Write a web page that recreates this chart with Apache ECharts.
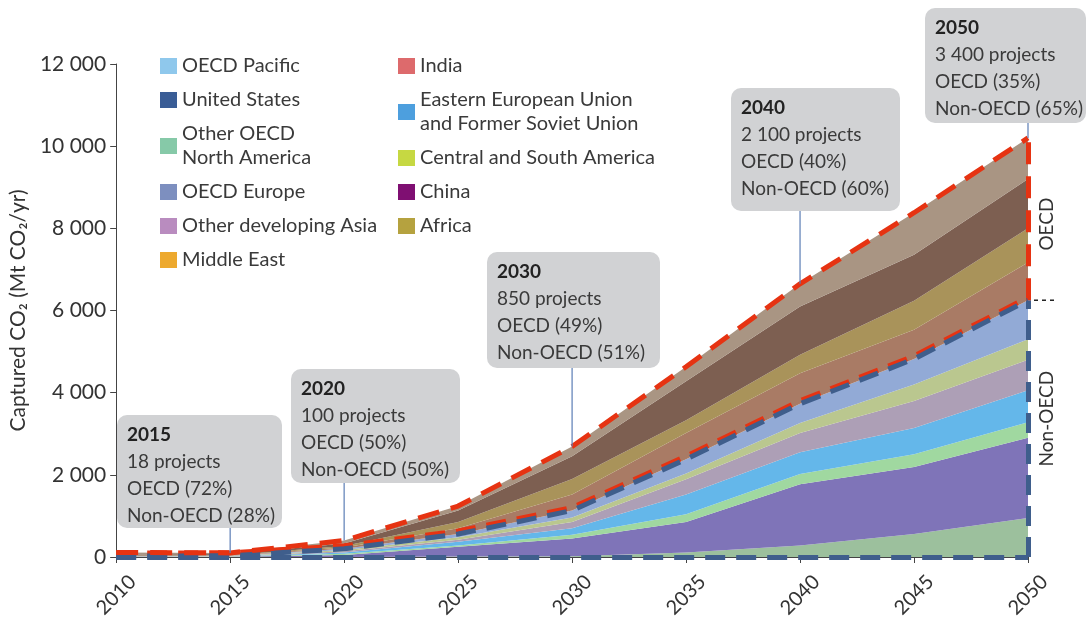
<!DOCTYPE html>
<html>
<head>
<meta charset="utf-8">
<script src="https://cdn.jsdelivr.net/npm/echarts@6/dist/echarts.min.js"></script>
<style>
  html, body { margin: 0; padding: 0; background: #fff; }
  #chart { width: 1088px; height: 621px; }
</style>
</head>
<body>
<div id="chart"></div>
<script>
// years on the x axis
var years = ["2010", "2015", "2020", "2025", "2030", "2035", "2040", "2045", "2050"];

// captured CO2 per region, Mt CO2/yr
// non-OECD, bottom of the stack first
var middleEast   = [0, 0, 0, 10, 20, 110, 280, 560, 950];
var china        = [3, 5, 50, 240, 430, 740, 1490, 1630, 1950];
var africa       = [2, 5, 30, 30, 90, 190, 250, 310, 380];
var eeFsu        = [3, 5, 30, 90, 160, 480, 530, 640, 780];
var india        = [4, 5, 30, 50, 150, 370, 470, 660, 740];
var centralSouth = [3, 5, 30, 60, 110, 140, 240, 400, 500];
var otherAsia    = [5, 5, 30, 80, 170, 350, 470, 620, 950];
// OECD
var oecdEurope   = [5, 5, 30, 140, 390, 640, 740, 710, 920];
var otherNA      = [10, 10, 40, 150, 380, 310, 450, 710, 830];
var unitedStates = [25, 25, 60, 280, 550, 950, 1180, 1120, 1200];
var oecdPacific  = [50, 30, 70, 110, 240, 350, 550, 1020, 1000];

// project call-outs
var notes = [
  { year: "2015", lines: ["2015", "18 projects", "OECD (72%)", "Non-OECD (28%)"], x: 117, y: 415, w: 165, h: 113 },
  { year: "2020", lines: ["2020", "100 projects", "OECD (50%)", "Non-OECD (50%)"], x: 291, y: 369, w: 169, h: 114 },
  { year: "2030", lines: ["2030", "850 projects", "OECD (49%)", "Non-OECD (51%)"], x: 487, y: 252, w: 173, h: 116 },
  { year: "2040", lines: ["2040", "2 100 projects", "OECD (40%)", "Non-OECD (60%)"], x: 731, y: 88, w: 169, h: 123 },
  { year: "2050", lines: ["2050", "3 400 projects", "OECD (35%)", "Non-OECD (65%)"], x: 925, y: 8, w: 161, h: 115 }
];

var FONT = "Lato";
var RED = "#e63312";
var BLUE = "#3f5e8c";

var regions = [
  { name: "Middle East", data: middleEast, fill: "#9cc09d", color: "#eda92e" },
  { name: "China", data: china, fill: "#7f74b8", color: "#7f0f72" },
  { name: "Africa", data: africa, fill: "#a0d8a0", color: "#b5a23f" },
  { name: "Eastern European Union\nand Former Soviet Union", data: eeFsu, fill: "#64b7ea", color: "#4d9fde" },
  { name: "India", data: india, fill: "#ad9fb6", color: "#dd6a6c" },
  { name: "Central and South America", data: centralSouth, fill: "#bac78f", color: "#c6d842" },
  { name: "Other developing Asia", data: otherAsia, fill: "#92aad6", color: "#b98cbf" },
  { name: "OECD Europe", data: oecdEurope, fill: "#a97b65", color: "#7d8fbf" },
  { name: "Other OECD\nNorth America", data: otherNA, fill: "#a9935a", color: "#86c9a8" },
  { name: "United States", data: unitedStates, fill: "#7d5f51", color: "#3a5d96" },
  { name: "OECD Pacific", data: oecdPacific, fill: "#a99583", color: "#8fc8ec" }
];

var nonOecd = years.map(function (y, i) {
  var s = 0;
  for (var k = 0; k < 7; k++) s += regions[k].data[i];
  return s;
});
var total = years.map(function (y, i) {
  var s = 0;
  regions.forEach(function (r) { s += r.data[i]; });
  return s;
});
var last = years.length - 1;

function legendItem(name) {
  var r = regions.filter(function (x) { return x.name === name; })[0];
  return { name: name, itemStyle: { color: r.color } };
}

var series = regions.map(function (r) {
  return {
    name: r.name,
    type: "line",
    stack: "co2",
    data: r.data,
    showSymbol: false,
    silent: true,
    itemStyle: { color: r.color },
    lineStyle: { width: 0 },
    areaStyle: { color: r.fill, opacity: 1 }
  };
});

series.push({
  name: "nonOecdLine",
  type: "line",
  data: nonOecd,
  showSymbol: false,
  silent: true,
  z: 5,
  lineStyle: {
    color: BLUE, width: 5, type: [20, 11],
    shadowColor: RED, shadowBlur: 0, shadowOffsetY: -3
  },
  markLine: {
    silent: true,
    symbol: "none",
    label: { show: false },
    lineStyle: { color: BLUE, width: 5, type: [20, 11] },
    data: [
      { yAxis: 0 },
      [{ coord: [years[last], 0] }, { coord: [years[last], nonOecd[last]] }]
    ]
  }
});

series.push({
  name: "totalLine",
  type: "line",
  data: total,
  showSymbol: false,
  silent: true,
  z: 6,
  lineStyle: { color: RED, width: 5, type: [22, 12] },
  markLine: {
    silent: true,
    symbol: "none",
    label: { show: false },
    lineStyle: { color: RED, width: 5, type: [22, 12] },
    data: [
      [{ coord: [years[last], nonOecd[last]] }, { coord: [years[last], total[last]] }]
    ]
  }
});

var legendBase = {
  orient: "vertical",
  top: 54,
  padding: 0,
  itemWidth: 17,
  itemHeight: 16,
  itemGap: 10,
  icon: "rect",
  selectedMode: false,
  textStyle: { fontFamily: FONT, fontSize: 20, lineHeight: 24, color: "#3a3a3a" }
};

var option = {
  animation: false,
  textStyle: { fontFamily: FONT },
  grid: { left: 111, right: 60, top: 64, bottom: 64 },
  legend: [
    Object.assign({}, legendBase, {
      left: 160,
      data: ["OECD Pacific", "United States", "Other OECD\nNorth America", "OECD Europe",
        "Other developing Asia", "Middle East"].map(legendItem)
    }),
    Object.assign({}, legendBase, {
      left: 398,
      data: ["India", "Eastern European Union\nand Former Soviet Union", "Central and South America",
        "China", "Africa"].map(legendItem)
    })
  ],
  xAxis: {
    type: "category",
    data: years,
    boundaryGap: false,
    axisLine: { lineStyle: { color: "#444", width: 1 } },
    axisTick: { length: 6, lineStyle: { color: "#444" } },
    axisLabel: {
      rotate: 45, fontSize: 20, color: "#333", margin: 38,
      align: "center", verticalAlign: "middle"
    }
  },
  yAxis: {
    type: "value",
    min: 0,
    max: 12000,
    interval: 2000,
    name: "Captured CO\u2082 (Mt CO\u2082/yr)",
    nameLocation: "middle",
    nameGap: 74,
    nameTextStyle: { fontSize: 21, color: "#333" },
    splitLine: { show: false },
    axisLine: { show: true, lineStyle: { color: "#444", width: 1 } },
    axisTick: { show: true, length: 6, lineStyle: { color: "#444" } },
    axisLabel: {
      fontSize: 21,
      color: "#333",
      margin: 10,
      formatter: function (v) {
        return v === 0 ? "0" : (v / 1000) + " 000";
      }
    }
  },
  series: series
};

var chart = echarts.init(document.getElementById("chart"));
chart.setOption(option);

function px(year, v) {
  return chart.convertToPixel({ xAxisIndex: 0, yAxisIndex: 0 }, [year, v]);
}

var graphics = [];
notes.forEach(function (n) {
  var i = years.indexOf(n.year);
  var top = px(n.year, total[i]);
  graphics.push({
    type: "line",
    z: 20,
    shape: { x1: top[0], y1: n.y + n.h, x2: top[0], y2: top[1] },
    style: { stroke: "#5b7db5", lineWidth: 1.2 }
  });
  var children = [{
    type: "rect",
    shape: { x: 0, y: 0, width: n.w, height: n.h, r: 10 },
    style: { fill: "#d1d2d4" }
  }];
  n.lines.forEach(function (t, j) {
    children.push({
      type: "text",
      x: 10,
      y: 20 + j * 27,
      style: {
        text: t,
        fill: j === 0 ? "#222" : "#3a3a3a",
        font: (j === 0 ? "bold " : "") + "19px " + FONT,
        verticalAlign: "middle"
      }
    });
  });
  graphics.push({ type: "group", x: n.x, y: n.y, z: 21, children: children });
});

var split = px(years[last], nonOecd[last]);
var topR = px(years[last], total[last]);
var zero = px(years[last], 0);
graphics.push({
  type: "line",
  z: 20,
  shape: { x1: split[0] + 6, y1: split[1], x2: split[0] + 30, y2: split[1] },
  style: { stroke: "#222", lineWidth: 1.5, lineDash: [4, 4] }
});
graphics.push({
  type: "text",
  x: split[0] + 19,
  y: (split[1] + topR[1]) / 2 + 5,
  rotation: Math.PI / 2,
  style: { text: "OECD", font: "19px " + FONT, fill: "#333", align: "center", verticalAlign: "middle" }
});
graphics.push({
  type: "text",
  x: split[0] + 19,
  y: (split[1] + zero[1]) / 2 - 10,
  rotation: Math.PI / 2,
  style: { text: "Non-OECD", font: "19px " + FONT, fill: "#333", align: "center", verticalAlign: "middle" }
});

chart.setOption({ graphic: graphics });
</script>
</body>
</html>
